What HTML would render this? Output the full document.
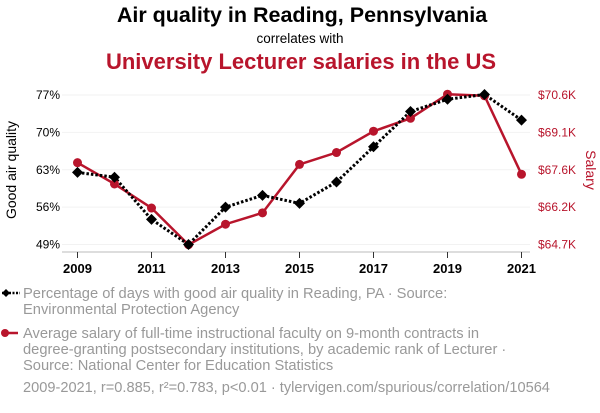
<!DOCTYPE html>
<html><head><meta charset="utf-8">
<style>
body{margin:0;background:#fff;width:600px;height:408px;overflow:hidden;font-family:"Liberation Sans",Arial,sans-serif}
svg text{font-family:"Liberation Sans",Arial,sans-serif}
</style></head>
<body>
<svg id="chart" width="600" height="408">
<text x="302" y="22" text-anchor="middle" font-size="21.5" font-weight="bold" fill="#000">Air quality in Reading, Pennsylvania</text>
<text x="300" y="43" text-anchor="middle" font-size="13.5" fill="#000">correlates with</text>
<text x="301" y="69" text-anchor="middle" font-size="22" font-weight="bold" fill="#b8152c">University Lecturer salaries in the US</text>
<g id="grid"></g>
<g id="axes"></g>
<g id="series"></g>
<text transform="translate(16,170) rotate(-90)" text-anchor="middle" font-size="14" fill="#000">Good air quality</text>
<text transform="translate(586,170) rotate(90)" text-anchor="middle" font-size="14" fill="#b8152c">Salary</text>
<g>
<line x1="2" y1="293" x2="20" y2="293" stroke="#000" stroke-width="2.5" stroke-dasharray="2,1.5"/>
<path d="M2 293 l4 -4 l4 4 l-4 4z" fill="#000"/>
<text x="23" y="298" font-size="14.7" fill="#999">Percentage of days with good air quality in Reading, PA · Source:</text>
<text x="23" y="314" font-size="14.7" fill="#999">Environmental Protection Agency</text>
</g>
<g>
<line x1="4" y1="333" x2="18" y2="333" stroke="#b8152c" stroke-width="2.5"/>
<circle cx="5" cy="333" r="4" fill="#b8152c"/>
<text x="23" y="338" font-size="14.7" fill="#999">Average salary of full-time instructional faculty on 9-month contracts in</text>
<text x="23" y="354" font-size="14.7" fill="#999">degree-granting postsecondary institutions, by academic rank of Lecturer ·</text>
<text x="23" y="370" font-size="14.7" fill="#999">Source: National Center for Education Statistics</text>
</g>
<text x="23" y="392" font-size="14.6" fill="#999">2009-2021, r=0.885, r²=0.783, p&lt;0.01 · tylervigen.com/spurious/correlation/10564</text>
</svg>
<script>
const years=[2009,2010,2011,2012,2013,2014,2015,2016,2017,2018,2019,2020,2021];
const airQuality=[62.5,61.6,53.7,49.0,56.0,58.2,56.7,60.7,67.3,73.9,76.2,77.1,72.3];
const salary=[67.93,67.09,66.14,64.69,65.50,65.95,67.86,68.33,69.17,69.68,70.63,70.57,67.47];
const leftTicks=[77,70,63,56,49];
const rightTicks=[70.6,69.1,67.6,66.2,64.7];
const xTicks=[2009,2011,2013,2015,2017,2019,2021];

const NS="http://www.w3.org/2000/svg";
const x=y=>77.5+(y-2009)*37;
const yL=v=>95+(77-v)*(149.5/28);
const yR=v=>95+(70.6-v)*(149.5/5.9);
function mk(tag,attrs,parent,txt){const e=document.createElementNS(NS,tag);for(const k in attrs)e.setAttribute(k,attrs[k]);if(txt!==undefined)e.textContent=txt;parent.appendChild(e);return e;}
const grid=document.getElementById('grid'),axes=document.getElementById('axes'),ser=document.getElementById('series');
leftTicks.forEach(t=>{
  const g=mk('line',{x1:62,x2:530,y1:yL(t),y2:yL(t),stroke:'#f2f2f2','stroke-width':1},grid);
  
  
  const l=mk('text',{x:60,y:yL(t)+4,'text-anchor':'end','font-size':12,fill:'#000'},axes,t+'%');
  
  
});
rightTicks.forEach((t,i)=>{
  const l=mk('text',{x:538,y:yL(leftTicks[i])+4,'font-size':12,fill:'#b8152c'},axes,'$'+t.toFixed(1)+'K');
  
  
});
const ax=mk('line',{x1:62,x2:530,y1:252,y2:252,stroke:'#bbb','stroke-width':1},axes);


xTicks.forEach(t=>{
  mk('line',{x1:x(t),x2:x(t),y1:252,y2:258,stroke:'#333','stroke-width':1},axes);
  const l=mk('text',{x:x(t),y:273,'text-anchor':'middle','font-size':13,'font-weight':'bold',fill:'#000'},axes,t);
  
  
});
const rp=mk('polyline',{points:years.map((y,i)=>x(y)+','+yR(salary[i])).join(' '),fill:'none',stroke:'#b8152c','stroke-width':2.5},ser);


const bp=mk('polyline',{points:years.map((y,i)=>x(y)+','+yL(airQuality[i])).join(' '),fill:'none',stroke:'#000','stroke-width':3,'stroke-dasharray':'2.5,2'},ser);


years.forEach((y,i)=>{
  const c=mk('circle',{cx:x(y),cy:yR(salary[i]),r:4.5,fill:'#b8152c'},ser);
  
  
});
years.forEach((y,i)=>{
  const cx=x(y),cy=yL(airQuality[i]);
  const d=mk('path',{d:`M${cx} ${cy-5.5} L${cx+5.5} ${cy} L${cx} ${cy+5.5} L${cx-5.5} ${cy}Z`,fill:'#000'},ser);
  
  
});
</script>
</body></html>
